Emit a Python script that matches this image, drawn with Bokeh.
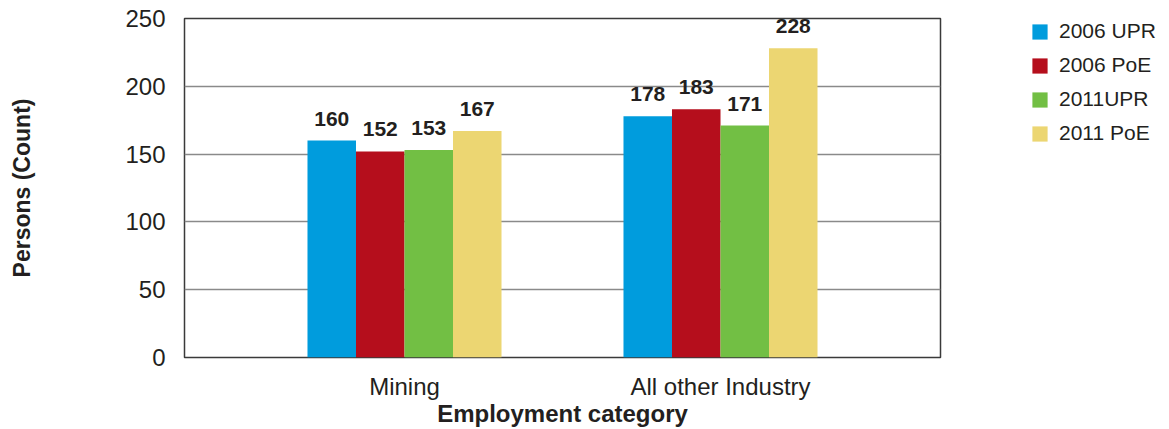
from bokeh.plotting import figure
from bokeh.layouts import row
from bokeh.models import ColumnDataSource, Range1d, FixedTicker, Legend, LegendItem
from bokeh.transform import dodge
from bokeh.embed import file_html
from bokeh.resources import INLINE
from bokeh.core.properties import value

categories = ["Mining", "All other Industry"]
series = ["2006 UPR", "2006 PoE", "2011UPR", "2011 PoE"]
upr_2006 = [160, 178]
poe_2006 = [152, 183]
upr_2011 = [153, 171]
poe_2011 = [167, 228]
colors = ["#009CDD", "#B50E1C", "#72BF44", "#ECD672"]
y_ticks = [0, 50, 100, 150, 200, 250]

FONT = "Liberation Sans"
TXT = "#231F20"

xpos = [i + 1 for i in range(len(categories))]
source = ColumnDataSource(dict(
    x=xpos,
    s0=upr_2006, s1=poe_2006, s2=upr_2011, s3=poe_2011,
    l0=[str(v) for v in upr_2006], l1=[str(v) for v in poe_2006],
    l2=[str(v) for v in upr_2011], l3=[str(v) for v in poe_2011],
))

p = figure(width=1000, height=429, output_backend="svg", toolbar_location=None,
           x_range=Range1d(0.3038, 2.6962), y_range=Range1d(0, 250),
           min_border_left=184, min_border_right=60, min_border_top=18, min_border_bottom=72)

bw = 0.1535
offsets = [-1.5 * bw, -0.5 * bw, 0.5 * bw, 1.5 * bw]
for i in range(4):
    p.vbar(x=dodge("x", offsets[i], range=p.x_range), top="s%d" % i, width=bw,
           source=source, fill_color=colors[i], line_color=None)
    p.text(x=dodge("x", offsets[i], range=p.x_range), y="s%d" % i, text="l%d" % i,
           source=source, text_align="center", text_baseline="alphabetic", y_offset=-22,
           text_font=value(FONT), text_font_style="bold", text_font_size="21px",
           text_color=TXT)

p.outline_line_color = "#3a3a3a"
p.outline_line_width = 1.5
p.xgrid.grid_line_color = None
p.ygrid.grid_line_color = "#8a8a8a"
p.ygrid.grid_line_width = 1.3

p.yaxis.ticker = FixedTicker(ticks=y_ticks)
p.xaxis.ticker = FixedTicker(ticks=xpos)
p.xaxis.major_label_overrides = {x: c for x, c in zip(xpos, categories)}

for ax in (p.xaxis[0], p.yaxis[0]):
    ax.axis_line_color = None
    ax.major_tick_line_color = None
    ax.minor_tick_line_color = None
    ax.major_tick_out = 0
    ax.minor_tick_out = 0
    ax.major_label_text_font = FONT
    ax.major_label_text_font_size = "24px"
    ax.major_label_text_color = TXT
    ax.axis_label_text_font = FONT
    ax.axis_label_text_font_style = "bold"
    ax.axis_label_text_color = TXT

p.yaxis.axis_label = "Persons (Count)"
p.yaxis.axis_label_text_font_size = "23px"
p.yaxis.major_label_standoff = 19
p.yaxis.axis_label_standoff = 87

p.xaxis.axis_label = "Employment category"
p.xaxis.axis_label_text_font_size = "24px"
p.xaxis.major_label_standoff = 15
p.xaxis.axis_label_standoff = -3

# legend figure (its bars lie outside its visible range; only the legend shows)
lp = figure(width=169, height=429, output_backend="svg", toolbar_location=None,
            x_axis_location=None, y_axis_location=None,
            x_range=Range1d(-10, -9), y_range=Range1d(0, 250),
            min_border_left=0, min_border_right=0, min_border_top=0, min_border_bottom=72)
lp.outline_line_color = None
lp.grid.grid_line_color = None
items = []
for i in range(4):
    r = lp.vbar(x="x", top="s%d" % i, width=bw, source=source,
                fill_color=colors[i], line_color=None)
    items.append(LegendItem(label=series[i], renderers=[r]))

legend = Legend(items=items, location=(30, 212), orientation="vertical")
legend.glyph_width = 19
legend.glyph_height = 19
legend.label_height = 19
legend.spacing = 10
legend.padding = 0
legend.margin = 0
legend.label_standoff = 10
legend.border_line_color = None
legend.background_fill_alpha = 0
legend.label_text_font = FONT
legend.label_text_font_size = "21px"
legend.label_text_color = TXT
lp.add_layout(legend, "center")

layout = row(p, lp, spacing=0)
open("out.html", "w").write(file_html(layout, INLINE))
